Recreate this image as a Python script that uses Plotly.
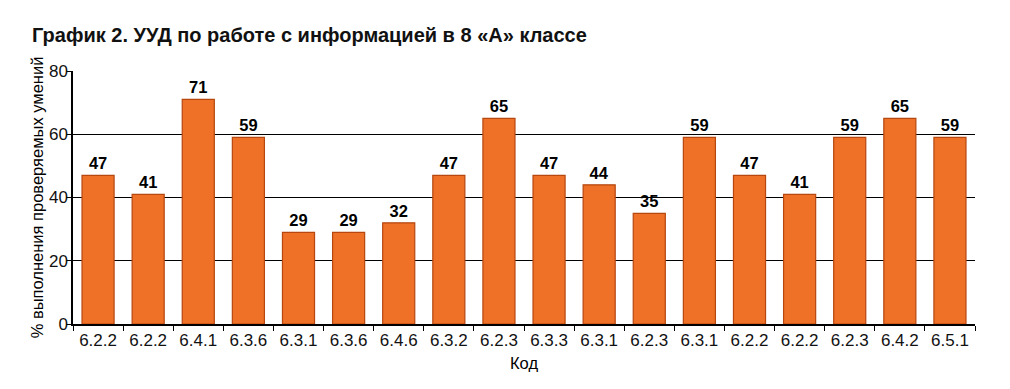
import plotly.graph_objects as go

codes = ["6.2.2", "6.2.2", "6.4.1", "6.3.6", "6.3.1", "6.3.6", "6.4.6", "6.3.2", "6.2.3",
         "6.3.3", "6.3.1", "6.2.3", "6.3.1", "6.2.2", "6.2.2", "6.2.3", "6.4.2", "6.5.1"]
values = [47, 41, 71, 59, 29, 29, 32, 47, 65, 47, 44, 35, 59, 47, 41, 59, 65, 59]
y_ticks = [0, 20, 40, 60, 80]

positions = list(range(len(codes)))
boundaries = [p - 0.5 for p in positions] + [positions[-1] + 0.5]

fig = go.Figure(go.Bar(
    x=positions, y=values,
    text=[f"<b>{v}</b>" for v in values], textposition="outside",
    textfont=dict(family="Liberation Sans, Arial", size=16.5, color="#000000"),
    marker=dict(color="#EE7127", line=dict(color="#B5470F", width=1.2)),
    cliponaxis=False,
))

fig.update_layout(
    width=994, height=373,
    margin=dict(l=65, r=27, t=63, b=57),
    paper_bgcolor="white", plot_bgcolor="white",
    bargap=0.36,
    showlegend=False,
    title=dict(text="<b>График 2. УУД по работе с информацией в 8 «А» классе</b>",
               x=24 / 994, xanchor="left", y=1 - 27 / 373, yanchor="middle",
               font=dict(family="Liberation Sans, Arial", size=20, color="#111111")),
    font=dict(family="Liberation Sans, Arial", color="#000000"),
)

fig.update_xaxes(
    range=[-0.5, len(codes) - 0.5],
    tickvals=positions, ticktext=codes, ticks="",
    tickfont=dict(size=17, color="#111111"),
    showline=True, linecolor="#000000", linewidth=1.5,
    showgrid=False, zeroline=False,
    minor=dict(tickvals=boundaries, ticks="outside", ticklen=5, tickcolor="#000000", showgrid=False),
    title=dict(text="Код", font=dict(size=16.5), standoff=8),
)
fig.update_yaxes(
    range=[0, 80], tickvals=y_ticks,
    ticks="outside", ticklen=5, tickcolor="#000000",
    tickfont=dict(size=17, color="#111111"),
    ticklabelstandoff=-5,
    showline=True, linecolor="#000000", linewidth=1.5,
    showgrid=True, gridcolor="#000000", gridwidth=1,
    zeroline=False,
    title=dict(text="% выполнения проверяемых умений", font=dict(size=16.5), standoff=1),
)

fig.write_html("out.html")
